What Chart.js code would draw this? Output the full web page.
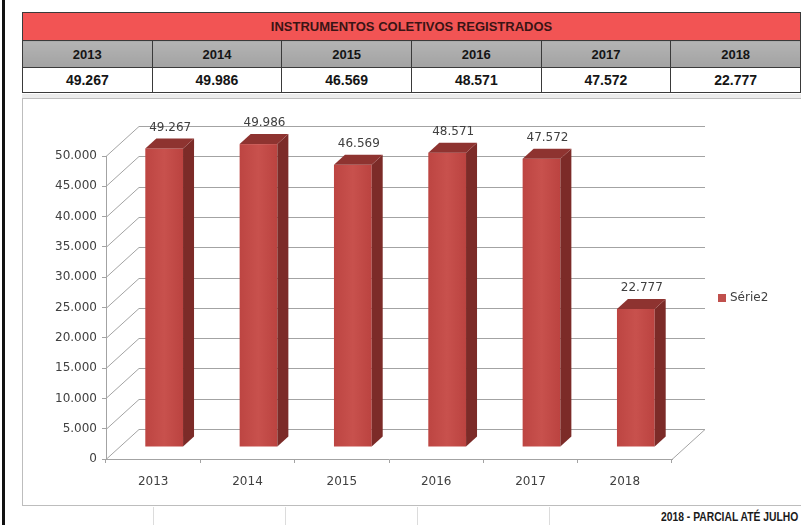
<!DOCTYPE html>
<html>
<head>
<meta charset="utf-8">
<script src="https://cdn.jsdelivr.net/npm/chart.js@4.4.1/dist/chart.umd.min.js"></script>
<style>
  html, body { margin: 0; padding: 0; background: #fff; }
  body { width: 801px; height: 525px; position: relative; overflow: hidden; font-family: "Liberation Sans", Arial, sans-serif; }
  #edge { position: absolute; left: 2px; top: 0; width: 3px; height: 525px; background: #111; }
  #tbl { position: absolute; left: 22px; top: 12px; border-collapse: collapse; table-layout: fixed; }
  #tbl td { border: 1px solid #3a3a3a; text-align: center; font-weight: bold; font-size: 13px; padding: 0; overflow: hidden; white-space: nowrap; }
  #tbl .head td { background: #f25454; height: 27px; color: #3a1414; }
  #tbl .years td { background: linear-gradient(#b4b4b4, #a2a2a2); height: 26px; color: #151515; }
  #tbl .vals td { background: #fff; height: 24px; color: #151515; font-size: 14px; }
  #strip { position: absolute; left: 22px; top: 94px; width: 779px; height: 4px; background: #ececec; }
  #box { position: absolute; left: 22px; top: 98px; width: 790px; height: 408px; border: 1px solid #bdbdbd; box-sizing: border-box; }
  #chart { position: absolute; left: 23px; top: 99px; }
  .vline { position: absolute; top: 507px; width: 1px; height: 18px; background: #dcdcdc; }
  #note { position: absolute; left: 661px; top: 510px; font-size: 12px; font-weight: bold; color: #1a1a1a; white-space: nowrap;
          transform: scaleX(0.86); transform-origin: left center; }
</style>
</head>
<body>
<div id="edge"></div>
<table id="tbl">
  <tr class="head"><td id="title" colspan="6"></td></tr>
  <tr class="years" id="yearRow"></tr>
  <tr class="vals" id="valRow"></tr>
</table>
<div id="strip"></div>
<div id="box"></div>
<canvas id="chart" width="778" height="407"></canvas>
<div class="vline" style="left:153px"></div>
<div class="vline" style="left:285px"></div>
<div class="vline" style="left:417px"></div>
<div class="vline" style="left:549px"></div>
<div id="note">2018 - PARCIAL ATÉ JULHO</div>
<script>
const title = "INSTRUMENTOS COLETIVOS REGISTRADOS";
const years = ["2013", "2014", "2015", "2016", "2017", "2018"];
const registered = [49267, 49986, 46569, 48571, 47572, 22777];
const seriesName = "Série2";
const yMax = 50000, yStep = 5000;

// 49267 -> "49.267"
const fmt = v => String(v).replace(/\B(?=(\d{3})+(?!\d))/g, ".");

// table above the chart
document.getElementById("title").textContent = title;
const yearRow = document.getElementById("yearRow");
const valRow = document.getElementById("valRow");
years.forEach((y, i) => {
  const a = document.createElement("td");
  a.style.width = "130.5px";
  a.textContent = y;
  yearRow.appendChild(a);
  const b = document.createElement("td");
  b.textContent = fmt(registered[i]);
  valRow.appendChild(b);
});

// fake 3D: walls, floor and prism bars
const DX = 33, DY = 30;      // wall depth
const BX = 11, BY = 12;      // bar front face sits this far into the box
const SX = 11, SY = 10;      // bar thickness
const gridColor = "#a3a3a3";

const box3d = {
  id: "box3d",
  beforeDatasetsDraw(chart) {
    const { ctx, chartArea: a, scales: { y } } = chart;
    ctx.save();
    ctx.strokeStyle = gridColor;
    ctx.lineWidth = 1;
    y.ticks.forEach(t => {
      const py = Math.round(y.getPixelForValue(t.value)) + 0.5;
      ctx.beginPath();
      ctx.moveTo(a.left, py);
      ctx.lineTo(a.left + DX, py - DY);
      ctx.lineTo(a.right + DX, py - DY);
      ctx.stroke();
    });
    // right edge of the floor
    const by = Math.round(a.bottom) + 0.5;
    ctx.beginPath();
    ctx.moveTo(a.right, by);
    ctx.lineTo(a.right + DX, by - DY);
    ctx.stroke();
    ctx.restore();
  },
  afterDatasetsDraw(chart) {
    const { ctx } = chart;
    const meta = chart.getDatasetMeta(0);
    ctx.save();
    meta.data.forEach((bar, i) => {
      const cx = bar.x + BX, hw = bar.width / 2;
      const top = bar.y - BY, base = bar.base - BY;
      const l = cx - hw, r = cx + hw;
      // front
      const g = ctx.createLinearGradient(l, 0, r, 0);
      g.addColorStop(0, "#bd4542");
      g.addColorStop(0.5, "#c8514d");
      g.addColorStop(1, "#bb4340");
      ctx.fillStyle = g;
      ctx.fillRect(l, top, r - l, base - top);
      // side
      ctx.fillStyle = "#7c2b28";
      ctx.beginPath();
      ctx.moveTo(r, top); ctx.lineTo(r + SX, top - SY);
      ctx.lineTo(r + SX, base - SY); ctx.lineTo(r, base);
      ctx.closePath(); ctx.fill();
      // top
      ctx.fillStyle = "#8e3330";
      ctx.beginPath();
      ctx.moveTo(l, top); ctx.lineTo(l + SX, top - SY);
      ctx.lineTo(r + SX, top - SY); ctx.lineTo(r, top);
      ctx.closePath(); ctx.fill();
      // value label
      ctx.fillStyle = "#404040";
      ctx.font = "12px 'DejaVu Sans'";
      ctx.textAlign = "center";
      ctx.textBaseline = "middle";
      ctx.fillText(fmt(registered[i]), cx + 6, top - 21);
    });
    ctx.restore();
  },
  afterDraw(chart) {
    // legend on the right
    const { ctx, chartArea: a } = chart;
    ctx.save();
    const lx = a.right + 46, ly = 298 - 99;
    ctx.fillStyle = "#c0504d";
    ctx.fillRect(lx, ly - 4, 8, 8);
    ctx.fillStyle = "#404040";
    ctx.font = "12px 'DejaVu Sans'";
    ctx.textBaseline = "middle";
    ctx.fillText(seriesName, lx + 12, ly);
    ctx.restore();
  }
};

new Chart(document.getElementById("chart"), {
  type: "bar",
  data: {
    labels: years,
    datasets: [{
      label: seriesName,
      data: registered,
      backgroundColor: "rgba(0,0,0,0)",
      borderWidth: 0,
      categoryPercentage: 1,
      barPercentage: 0.4
    }]
  },
  plugins: [box3d],
  options: {
    responsive: false,
    animation: false,
    devicePixelRatio: 1,
    layout: { padding: { top: 57, right: 129, left: 0, bottom: 0 } },
    plugins: { legend: { display: false }, tooltip: { enabled: false } },
    scales: {
      y: {
        min: 0, max: yMax,
        afterFit: s => { s.width = 83; },
        ticks: { stepSize: yStep, padding: 5, color: "#404040", font: { family: "DejaVu Sans", size: 12 }, callback: v => fmt(v) },
        grid: { drawOnChartArea: false, tickLength: 4, color: gridColor },
        border: { color: gridColor }
      },
      x: {
        afterFit: s => { s.height = 47; },
        ticks: { padding: 12, color: "#404040", font: { family: "DejaVu Sans", size: 12 } },
        grid: { drawOnChartArea: false, tickLength: 4, color: gridColor, offset: true },
        border: { color: gridColor }
      }
    }
  }
});
</script>
</body>
</html>
